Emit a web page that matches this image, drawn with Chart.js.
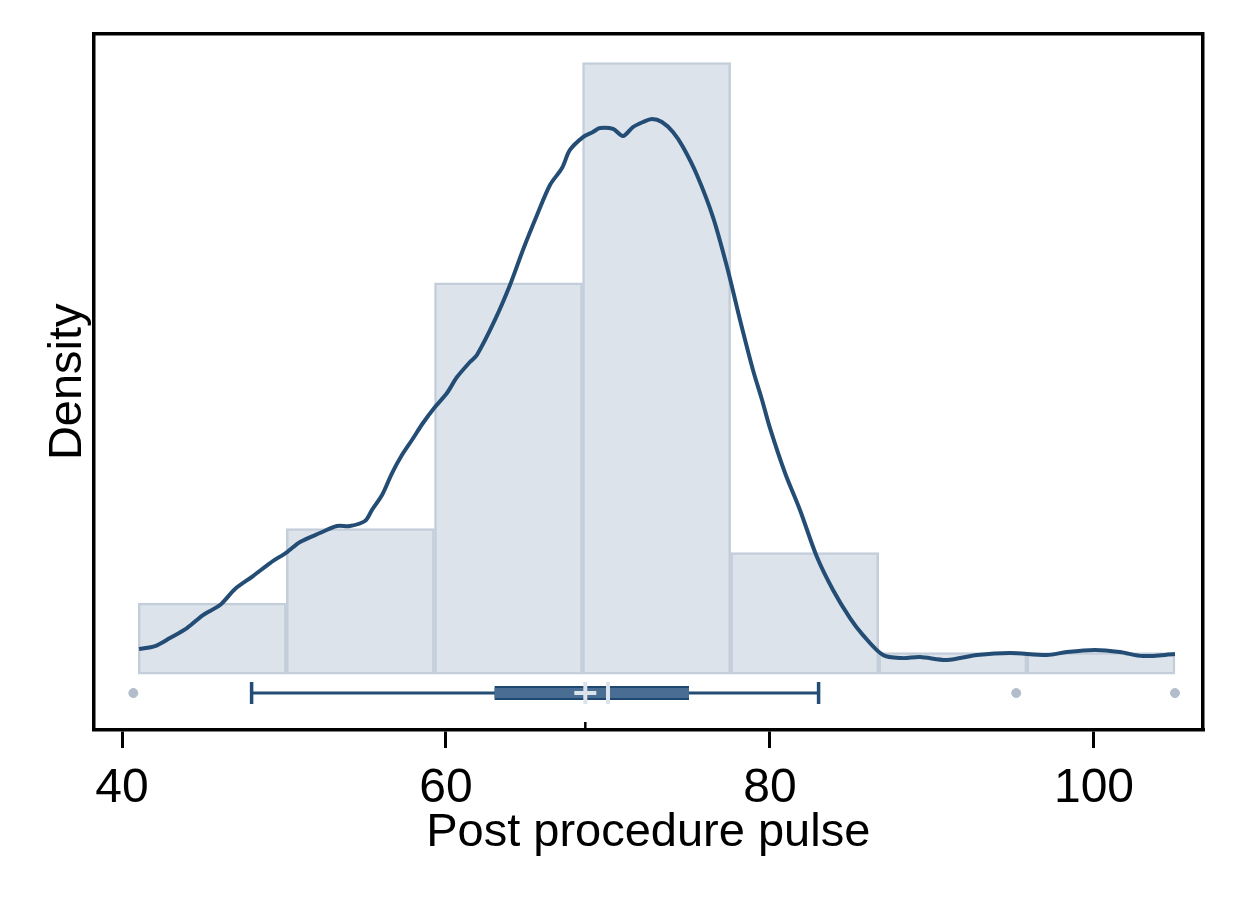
<!DOCTYPE html>
<html>
<head>
<meta charset="utf-8">
<script src="https://cdn.jsdelivr.net/npm/chart.js@4/dist/chart.umd.min.js"></script>
<style>
  html, body { margin: 0; padding: 0; background: #fff; }
  canvas { display: block; }
</style>
</head>
<body>
<canvas id="grafico" width="1237" height="899" style="width:1237px;height:899px"></canvas>
<script>
// tick labels of the x axis
const xTicks = [40, 60, 80, 100];

// histogram (density)
const binEdges = [41, 50.14, 59.29, 68.43, 77.57, 86.71, 95.86, 105];
const binDensity = [0.0056, 0.0115, 0.0309, 0.0483, 0.0096, 0.0017, 0.0017];

// kernel density curve
const kdeX = [41.05, 42.04, 42.96, 44.01, 45.0, 46.05, 46.98, 48.09, 49.14, 50.19,
  50.99, 52.22, 53.27, 54.07, 55.0, 55.43, 56.05, 56.67, 57.28, 57.9,
  58.58, 59.32, 60.06, 60.68, 61.48, 61.91, 63.02, 63.95, 64.75, 65.62,
  66.42, 67.16, 67.65, 68.46, 69.07, 69.51, 70.31, 70.93, 71.54, 72.16,
  72.72, 73.33, 74.01, 74.63, 75.49, 76.48, 77.35, 78.15, 78.95, 79.51,
  80.0, 80.93, 81.85, 82.9, 83.89, 84.94, 85.74, 86.98, 88.15, 89.26,
  90.93, 92.78, 94.81, 97.1, 98.33, 100.06, 101.6, 103.02, 105.0];
const kdeY = [0.00198, 0.00221, 0.00284, 0.00363, 0.00466, 0.00545, 0.00672, 0.00774, 0.00877, 0.00964,
  0.01043, 0.01114, 0.01169, 0.01169, 0.01209, 0.01296, 0.01414, 0.01588, 0.0173, 0.01849,
  0.01983, 0.02109, 0.0222, 0.02346, 0.02465, 0.0252, 0.02797, 0.03073, 0.0335, 0.03626,
  0.03863, 0.03997, 0.0414, 0.04242, 0.04282, 0.04313, 0.04306, 0.0425, 0.04321, 0.04361,
  0.04385, 0.04361, 0.04282, 0.04163, 0.03942, 0.0361, 0.03215, 0.02797, 0.02402, 0.02165,
  0.01943, 0.01588, 0.01296, 0.00924, 0.00664, 0.00442, 0.00308, 0.0015, 0.00126, 0.00134,
  0.00111, 0.0015, 0.00166, 0.0015, 0.00174, 0.0019, 0.00174, 0.00142, 0.00158];

// box plot summary
const whiskerLo = 48;
const q1 = 63;
const median = 70;
const q3 = 75;
const whiskerHi = 83;
const mean = 68.6;
const outliers = [40.7, 95.2, 105];

// axis ranges / placement of the box plot under the histogram
const xMin = 38.24, xMax = 106.73;
const yMin = -0.00442, yMax = 0.0506;
const boxLevel = -0.0015;
const meanTickLevel = -0.00411;

const navy = "#244d75";
const fuente = "'Liberation Sans', Arial, sans-serif";

const binCenters = binDensity.map((d, i) => (binEdges[i] + binEdges[i + 1]) / 2);
const at = (x, y) => ({ x: x, y: y });

const ctx = document.getElementById("grafico").getContext("2d");
new Chart(ctx, {
    type: "bar",
    data: {
        datasets: [
            {
                type: "bar",
                data: binCenters.map((c, i) => at(c, binDensity[i])),
                backgroundColor: "#dde3ea",
                borderColor: "#c3ceda",
                borderWidth: 2.5,
                borderSkipped: false,
                barPercentage: 1,
                categoryPercentage: 1,
                order: 10,
            },
            {
                type: "line",
                data: kdeX.map((x, i) => at(x, kdeY[i])),
                borderColor: navy,
                borderWidth: 4,
                borderJoinStyle: "round",
                pointRadius: 0,
                tension: 0.3,
                order: 9,
            },
            {
                type: "line",
                data: [at(whiskerLo, boxLevel), at(whiskerHi, boxLevel)],
                borderColor: navy,
                borderWidth: 3,
                pointRadius: 0,
                order: 8,
            },
            {
                type: "line",
                data: [at(whiskerLo, boxLevel), at(whiskerHi, boxLevel)],
                showLine: false,
                pointStyle: "line",
                rotation: 90,
                pointRadius: 11,
                pointBorderWidth: 3.5,
                pointBorderColor: navy,
                order: 7,
            },
            {
                type: "line",
                data: [at(q1, boxLevel), at(q3, boxLevel)],
                borderColor: "#1f4871",
                borderWidth: 14,
                borderCapStyle: "butt",
                pointRadius: 0,
                order: 6,
            },
            {
                type: "line",
                data: [at(q1, boxLevel), at(q3, boxLevel)],
                borderColor: "#4a6e93",
                borderWidth: 10,
                borderCapStyle: "butt",
                pointRadius: 0,
                order: 5,
            },
            {
                type: "line",
                data: [at(median, boxLevel)],
                showLine: false,
                pointStyle: "line",
                rotation: 90,
                pointRadius: 11,
                pointBorderWidth: 4,
                pointBorderColor: "#dde3ea",
                order: 4,
            },
            {
                type: "line",
                data: [at(mean, boxLevel)],
                showLine: false,
                pointStyle: "cross",
                pointRadius: 11,
                pointBorderWidth: 4,
                pointBorderColor: "#dde3ea",
                order: 3,
            },
            {
                type: "line",
                data: outliers.map((o) => at(o, boxLevel)),
                showLine: false,
                pointStyle: "circle",
                pointRadius: 4.5,
                pointBorderWidth: 1,
                pointBorderColor: "#b1bdcb",
                pointBackgroundColor: "#b1bdcb",
                order: 2,
            },
            {
                type: "line",
                data: [at(mean, meanTickLevel)],
                showLine: false,
                pointStyle: "line",
                rotation: 90,
                pointRadius: 4,
                pointBorderWidth: 2.5,
                pointBorderColor: "#000",
                order: 1,
            },
        ],
    },
    options: {
        responsive: false,
        devicePixelRatio: 1,
        animation: false,
        layout: { padding: { top: 33.5, right: 34, bottom: 0, left: 0 } },
        plugins: { legend: { display: false }, tooltip: { enabled: false } },
        scales: {
            x: {
                type: "linear",
                position: "bottom",
                offset: false,
                min: xMin,
                max: xMax,
                afterBuildTicks: (axis) => {
                    axis.ticks = xTicks.map((v) => ({ value: v }));
                },
                afterFit: (axis) => {
                    axis.height = 169;
                },
                ticks: {
                    color: "#000",
                    padding: 12,
                    maxRotation: 0,
                    font: { family: fuente, size: 48 },
                    callback: (v) => String(v),
                },
                grid: {
                    display: true,
                    offset: false,
                    drawOnChartArea: false,
                    drawTicks: true,
                    tickLength: 18,
                    tickWidth: 3,
                    tickColor: "#000",
                    lineWidth: 3,
                    color: "#000",
                },
                border: { display: true, color: "#000", width: 3.5 },
                title: {
                    display: true,
                    text: "Post procedure pulse",
                    color: "#000",
                    font: { family: fuente, size: 47 },
                    padding: { top: 0, bottom: 38 },
                },
            },
            y: {
                type: "linear",
                position: "left",
                min: yMin,
                max: yMax,
                afterFit: (axis) => {
                    axis.width = 93.5;
                },
                ticks: { display: false },
                grid: { display: false },
                border: { display: true, color: "#000", width: 3.5 },
                title: {
                    display: true,
                    text: "Density",
                    color: "#000",
                    font: { family: fuente, size: 47 },
                    padding: { top: 40, bottom: 0 },
                },
            },
            xTop: {
                type: "linear",
                position: "top",
                min: xMin,
                max: xMax,
                afterFit: (axis) => {
                    axis.height = 0;
                },
                ticks: { display: false },
                grid: { display: false },
                border: { display: true, color: "#000", width: 3.5 },
            },
            yRight: {
                type: "linear",
                position: "right",
                min: yMin,
                max: yMax,
                afterFit: (axis) => {
                    axis.width = 0;
                },
                ticks: { display: false },
                grid: { display: false },
                border: { display: true, color: "#000", width: 3.5 },
            },
        },
    },
});
</script>
</body>
</html>
